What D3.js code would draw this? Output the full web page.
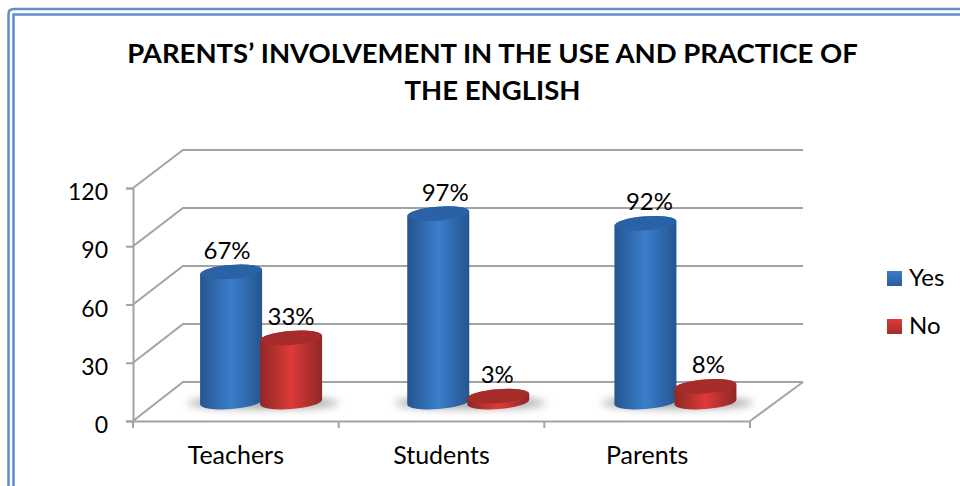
<!DOCTYPE html>
<html>
<head>
<meta charset="utf-8">
<script src="https://d3js.org/d3.v7.min.js"></script>
<style>
  html, body { margin: 0; padding: 0; background: #fff; }
  svg { display: block; font-family: Lato, "Open Sans", sans-serif; }
</style>
</head>
<body>
<script>
const titleLines = ["PARENTS\u2019 INVOLVEMENT IN THE USE AND PRACTICE OF", "THE ENGLISH"];
const categories = ["Teachers", "Students", "Parents"];
const seriesNames = ["Yes", "No"];
const yesValues = [67, 97, 92];
const noValues = [33, 3, 8];
const yTicks = [0, 30, 60, 90, 120];

const W = 960, H = 486;
const svg = d3.select("body").append("svg").attr("width", W).attr("height", H);
const defs = svg.append("defs");

// Body gradients give the cylinders their rounded look
const palette = {
  Yes: { edge: "#24558f", mid: "#3b7ecb", cap: "#2a62a6", foot: "#2b5c9a" },
  No:  { edge: "#8f2725", mid: "#dc3b39", cap: "#a62c2a", foot: "#a32c2a" }
};
seriesNames.forEach(name => {
  const p = palette[name];
  const body = defs.append("linearGradient").attr("id", "body" + name);
  [[0, p.edge], [0.5, p.mid], [1, p.edge]].forEach(([o, c]) =>
    body.append("stop").attr("offset", o).attr("stop-color", c));
  const swatch = defs.append("linearGradient").attr("id", "swatch" + name)
    .attr("x1", 0).attr("x2", 0).attr("y1", 0).attr("y2", 1);
  [[0, p.mid], [1, p.foot]].forEach(([o, c]) =>
    swatch.append("stop").attr("offset", o).attr("stop-color", c));
});
defs.append("filter").attr("id", "soft").attr("x", "-30%").attr("y", "-100%")
  .attr("width", "160%").attr("height", "300%")
  .append("feGaussianBlur").attr("stdDeviation", 4);

// Double page frame, open at the bottom
const frame = svg.append("g").attr("fill", "none").attr("stroke", "#5f8fcb").attr("stroke-width", 2.5);
frame.append("path").attr("d", `M8.5 ${H} V14 Q8.5 9 14 9 H${W}`);
frame.append("path").attr("d", `M13.5 ${H} V14.5 H${W}`);

// Title
svg.append("g").selectAll("text").data(titleLines).join("text")
  .attr("x", 492.5).attr("y", (d, i) => 63 + i * 36.5)
  .attr("text-anchor", "middle").attr("font-size", 27.5).attr("font-weight", 700)
  .attr("fill", "#000").text(d => d);

// Scales: the front plane, the back wall, and the cylinder height
const frontLeft = 133, frontRight = 750, backLeft = 183, backRight = 803;
const yFront = d3.scaleLinear().domain([0, 120]).range([421, 188]);
const yBack = d3.scaleLinear().domain([0, 120]).range([382, 150]);
const yBar = d3.scaleLinear().domain([0, 120]).range([402, 169]);
const xCat = d3.scaleBand().domain(categories).range([frontLeft, frontRight]);
// Cylinders stand mid-floor, so their bands sit further back and to the right
const xFloor = d3.scaleBand().domain(categories).range([157.5, 779]);
const xSeries = d3.scaleBand().domain(seriesNames).range([-60, 60]);

// Walls and floor
const gridColor = "#a3a3a3";
const grid = svg.append("g").attr("fill", "none").attr("stroke", gridColor).attr("stroke-width", 2);
grid.selectAll("path.wall").data(yTicks).join("path").attr("class", "wall")
  .attr("d", t => `M${frontLeft} ${yFront(t)} L${backLeft} ${yBack(t)} H${backRight}`);
grid.append("path")
  .attr("d", `M${frontRight} ${yFront(0)} L${backRight} ${yBack(0)}`);

// Value axis
const yAxis = svg.append("g").attr("transform", `translate(${frontLeft},0)`)
  .call(d3.axisLeft(yFront).tickValues(yTicks).tickSize(7).tickPadding(18).tickFormat(d3.format("d")));
yAxis.selectAll("line, path").attr("stroke", gridColor).attr("stroke-width", 2);
yAxis.selectAll("text").attr("font-size", 23).attr("font-family", "Lato, sans-serif")
  .attr("fill", "#000").attr("dy", "0.5em");

// Category axis, with ticks on the band boundaries
const xAxis = svg.append("g").attr("transform", `translate(0,${yFront(0)})`)
  .call(d3.axisBottom(xCat).tickSize(0).tickPadding(25));
xAxis.selectAll("path").attr("stroke", gridColor).attr("stroke-width", 2);
xAxis.selectAll("text").attr("font-size", 25).attr("font-family", "Lato, sans-serif")
  .attr("fill", "#000");
const boundaries = categories.map(c => xCat(c)).concat(frontRight);
xAxis.selectAll("line.boundary").data(boundaries).join("line").attr("class", "boundary")
  .attr("x1", d => d).attr("x2", d => d).attr("y1", 0).attr("y2", 7)
  .attr("stroke", gridColor).attr("stroke-width", 2);

// One record per cylinder
const marks = categories.flatMap((c, i) => [
  { cat: c, series: "Yes", value: yesValues[i] },
  { cat: c, series: "No", value: noValues[i] }
]);
const labelNudge = [-4, 0, 7, -1, 4, 3];
const rx = 31, ry = 7, tilt = -4.5;
const tan = Math.tan(tilt * Math.PI / 180) * rx;
const centre = d => xFloor(d.cat) + xFloor.bandwidth() / 2 + xSeries(d.series) + xSeries.bandwidth() / 2;

// Soft floor shadow behind each pair of cylinders
svg.append("g").selectAll("ellipse").data(categories).join("ellipse")
  .attr("cx", c => xFloor(c) + xFloor.bandwidth() / 2 + 2)
  .attr("cy", 403).attr("rx", 76).attr("ry", 5.5)
  .attr("fill", "#777").attr("opacity", 0.7).attr("filter", "url(#soft)");

// Cylinders: body first, then the darker tilted cap
const cyl = svg.append("g").selectAll("g").data(marks).join("g");
cyl.append("path")
  .attr("fill", d => `url(#body${d.series})`)
  .attr("d", d => {
    const cx = centre(d), top = yBar(d.value), base = yBar(0);
    return `M${cx - rx} ${top - tan} L${cx - rx} ${base - tan}` +
      `A${rx} ${ry} ${tilt} 0 0 ${cx + rx} ${base + tan}` +
      `L${cx + rx} ${top + tan}A${rx} ${ry} ${tilt} 0 0 ${cx - rx} ${top - tan}Z`;
  });
cyl.append("ellipse")
  .attr("cx", centre).attr("cy", d => yBar(d.value))
  .attr("rx", rx).attr("ry", ry)
  .attr("transform", d => `rotate(${tilt} ${centre(d)} ${yBar(d.value)})`)
  .attr("fill", d => palette[d.series].cap);

// Value labels
svg.append("g").selectAll("text").data(marks).join("text")
  .attr("x", (d, i) => centre(d) + labelNudge[i])
  .attr("y", d => yBar(d.value) - 13)
  .attr("text-anchor", "middle").attr("font-size", 24).attr("fill", "#000")
  .text(d => d.value + "%");

// Legend
const legend = svg.append("g").selectAll("g").data(seriesNames).join("g")
  .attr("transform", (d, i) => `translate(887,${271 + i * 48})`);
legend.append("rect").attr("width", 15).attr("height", 15)
  .attr("fill", d => `url(#swatch${d})`);
legend.append("text").attr("x", 22).attr("y", 15)
  .attr("font-size", 24).attr("fill", "#000").text(d => d);
</script>
</body>
</html>
